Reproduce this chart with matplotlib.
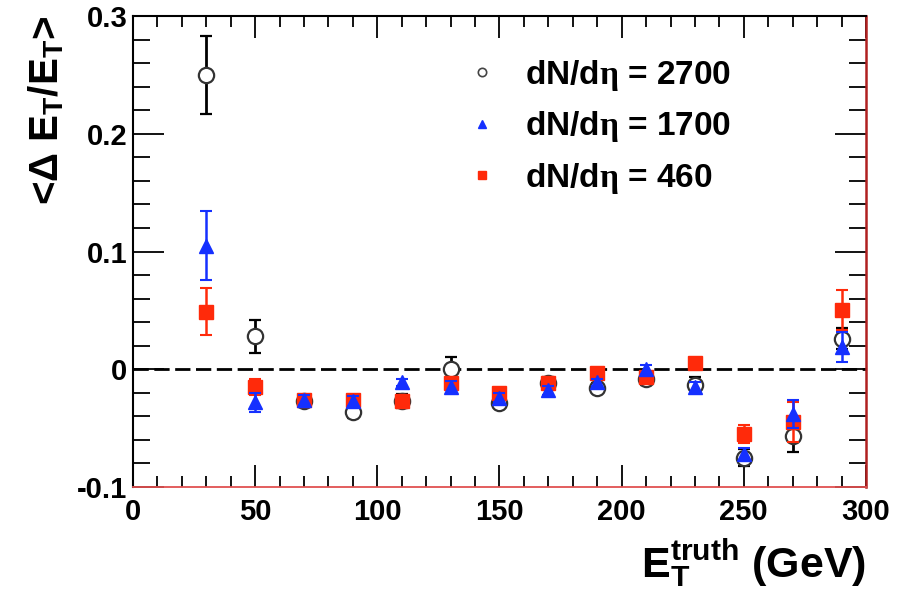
import numpy as np
import matplotlib
matplotlib.use("Agg")
import matplotlib.pyplot as plt
from matplotlib.lines import Line2D
from matplotlib.ticker import MultipleLocator

plt.rcParams['font.family'] = ['Liberation Sans', 'DejaVu Sans']
plt.rcParams['font.weight'] = 'bold'
plt.rcParams['mathtext.fontset'] = 'custom'
plt.rcParams['mathtext.rm'] = 'Liberation Sans'
plt.rcParams['mathtext.bf'] = 'Liberation Sans:bold'
plt.rcParams['mathtext.it'] = 'Liberation Serif'

# E_T truth bins (GeV)
et = np.array([30, 50, 70, 90, 110, 130, 150, 170, 190, 210, 230, 250, 270, 290])

# dN/deta = 2700
y_2700 = np.array([0.250, 0.028, -0.027, -0.036, -0.027, 0.000, -0.029, -0.012,
                   -0.016, -0.008, -0.013, -0.075, -0.057, 0.026])
e_2700 = np.array([0.033, 0.014, 0.005, 0.005, 0.006, 0.010, 0.004, 0.005,
                   0.004, 0.005, 0.006, 0.007, 0.013, 0.009])

# dN/deta = 1700
y_1700 = np.array([0.105, -0.028, -0.026, -0.027, -0.011, -0.015, -0.024, -0.018,
                   -0.011, 0.000, -0.015, -0.072, -0.038, 0.019])
e_1700 = np.array([0.029, 0.008, 0.004, 0.004, 0.003, 0.005, 0.004, 0.004,
                   0.003, 0.004, 0.004, 0.005, 0.012, 0.013])

# dN/deta = 460
y_460 = np.array([0.049, -0.015, -0.026, -0.026, -0.027, -0.012, -0.020, -0.012,
                  -0.003, -0.007, 0.005, -0.055, -0.045, 0.050])
e_460 = np.array([0.020, 0.007, 0.004, 0.004, 0.005, 0.004, 0.004, 0.004,
                  0.003, 0.004, 0.004, 0.008, 0.017, 0.017])

labels = [r"dN/d$\eta$ = 2700", r"dN/d$\eta$ = 1700", r"dN/d$\eta$ = 460"]
blue = '#1530ff'
red = '#ff2a0a'

fig = plt.figure(figsize=(9.06, 5.95), dpi=100)
ax = fig.add_axes([0.1468, 0.1815, 0.809, 0.7916])

ax.axhline(0, color='black', lw=2, ls=(0, (5.5, 2)), zorder=1)

ax.errorbar(et, y_2700, yerr=e_2700, fmt='o', mfc='white', mec='#333333', mew=1.6,
            ms=11, ecolor='black', elinewidth=2, capsize=4, capthick=1.5, zorder=3)
ax.errorbar(et, y_460, yerr=e_460, fmt='s', mfc=red, mec=red, ms=10,
            ecolor=red, elinewidth=1.8, capsize=4, capthick=1.5, zorder=4)
ax.errorbar(et, y_1700, yerr=e_1700, fmt='^', mfc=blue, mec=blue, ms=10,
            ecolor=blue, elinewidth=1.8, capsize=4, capthick=1.5, zorder=5)

ax.set_xlim(0, 300)
ax.set_ylim(-0.1, 0.3)
ax.xaxis.set_major_locator(MultipleLocator(50))
ax.xaxis.set_minor_locator(MultipleLocator(10))
ax.yaxis.set_major_locator(MultipleLocator(0.1))
ax.yaxis.set_minor_locator(MultipleLocator(0.02))
ax.yaxis.set_major_formatter(plt.FuncFormatter(lambda v, p: '0' if abs(v) < 1e-9 else f'{v:.1f}'))

ax.tick_params(which='both', direction='in', top=True, right=True, width=1.3, labelsize=21)
ax.tick_params(which='major', axis='x', length=16, pad=8)
ax.tick_params(which='minor', axis='x', length=8)
ax.tick_params(which='major', axis='y', length=22, pad=4)
ax.tick_params(which='minor', axis='y', length=12)
for t in ax.get_xticklabels() + ax.get_yticklabels():
    t.set_fontweight('bold')

for s in ['top', 'left']:
    ax.spines[s].set_linewidth(1.5)
    ax.spines[s].set_color('black')
ax.spines['bottom'].set_color('#e05050')
ax.spines['bottom'].set_linewidth(1.3)
ax.spines['right'].set_color('#b02020')
ax.spines['right'].set_linewidth(1.8)

ax.set_ylabel(r"<$\Delta$ E$_{\mathbf{T}}$/E$_{\mathbf{T}}$>", fontsize=29,
              fontweight='bold', loc='top', labelpad=8)
ax.set_xlabel(r"E$_{\mathbf{T}}^{\mathbf{truth}}$ (GeV)", fontsize=31,
              fontweight='bold', loc='right', labelpad=8)

handles = [
    Line2D([], [], ls='none', marker='o', mfc='white', mec='#444444', ms=6, mew=1.2),
    Line2D([], [], ls='none', marker='^', mfc=blue, mec=blue, ms=6),
    Line2D([], [], ls='none', marker='s', mfc=red, mec=red, ms=6),
]
leg = ax.legend(handles, labels, loc='upper left', bbox_to_anchor=(0.412, 0.975),
                frameon=False, labelspacing=0.5, handlelength=1.0, handletextpad=0.8,
                prop={'weight': 'bold', 'size': 24})

fig.savefig('out.png', dpi=100)
